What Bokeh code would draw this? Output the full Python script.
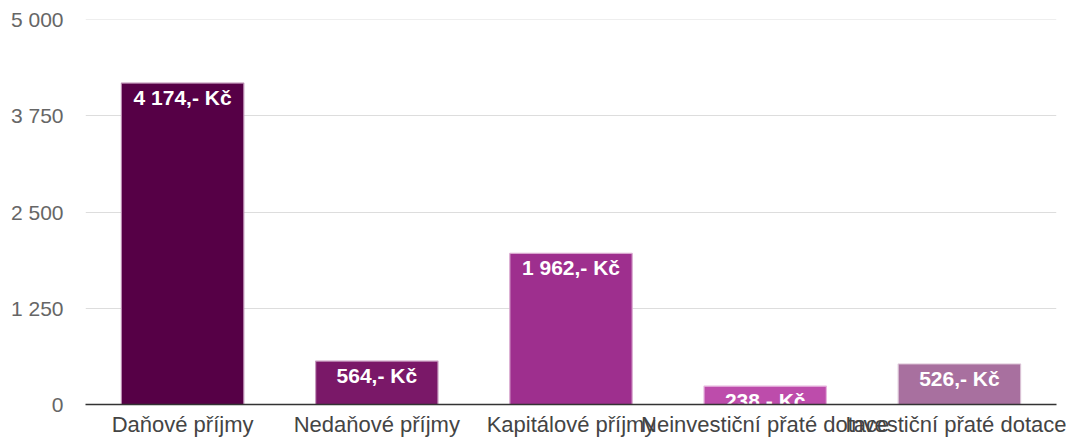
from bokeh.plotting import figure
from bokeh.models import ColumnDataSource, FixedTicker, CustomJSTickFormatter, Range1d, Span
from bokeh.core.properties import value
from bokeh.embed import file_html
from bokeh.resources import INLINE

categories = ["Daňové příjmy", "Nedaňové příjmy", "Kapitálové příjmy",
              "Neinvestiční přaté dotace", "Investiční přaté dotace"]
values = [4174, 564, 1962, 238, 526]
labels = ["4 174,- Kč", "564,- Kč", "1 962,- Kč", "238,- Kč", "526,- Kč"]
colors = ["#560046", "#7a1868", "#9e2f8e", "#bd4cab", "#a8709f"]
borders = ["#b98ab0", "#c79bbf", "#d8a6ce", "#e6b4dd", "#d9c0d4"]
y_ticks = [0, 1250, 2500, 3750, 5000]

src = ColumnDataSource(dict(cat=categories, val=values, lab=labels,
                            col=colors, bcol=borders))

FONT = "Liberation Sans"

p = figure(x_range=categories, y_range=Range1d(0, y_ticks[-1]),
           frame_width=971, frame_height=385, output_backend="svg",
           toolbar_location=None, min_border_left=85, min_border_right=10,
           min_border_top=19, min_border_bottom=0)
p.outline_line_color = None

p.add_layout(Span(location=y_ticks[-1], dimension="width",
                  line_color="#dddddd", line_width=1))

p.vbar(x="cat", top="val", width=0.63, source=src, fill_color="col",
       line_color="bcol", line_width=1.2)
p.text(x="cat", y="val", text="lab", source=src, text_color="white",
       text_font=value(FONT), text_font_style="bold", text_font_size="21px",
       text_align="center", text_baseline="top", y_offset=3)

p.yaxis.ticker = FixedTicker(ticks=y_ticks)
p.yaxis.formatter = CustomJSTickFormatter(code="""
    return tick.toString().replace(/\\B(?=(\\d{3})+(?!\\d))/g, ' ');
""")
p.yaxis.axis_line_color = None
p.yaxis.major_tick_line_color = None
p.yaxis.minor_tick_line_color = None
p.yaxis.major_label_standoff = 16
p.yaxis.major_label_text_font = FONT
p.yaxis.major_label_text_font_size = "21px"
p.yaxis.major_label_text_color = "#666666"

p.xaxis.axis_line_color = "#333333"
p.xaxis.axis_line_width = 1.5
p.xaxis.major_tick_line_color = None
p.xaxis.minor_tick_line_color = None
p.xaxis.major_label_standoff = 1
p.xaxis.major_label_text_font = FONT
p.xaxis.major_label_text_font_size = "22px"
p.xaxis.major_label_text_color = "#444444"

p.xgrid.grid_line_color = None
p.ygrid.grid_line_color = "#dddddd"
p.ygrid.ticker = FixedTicker(ticks=y_ticks)

open("out.html", "w").write(file_html(p, INLINE))
